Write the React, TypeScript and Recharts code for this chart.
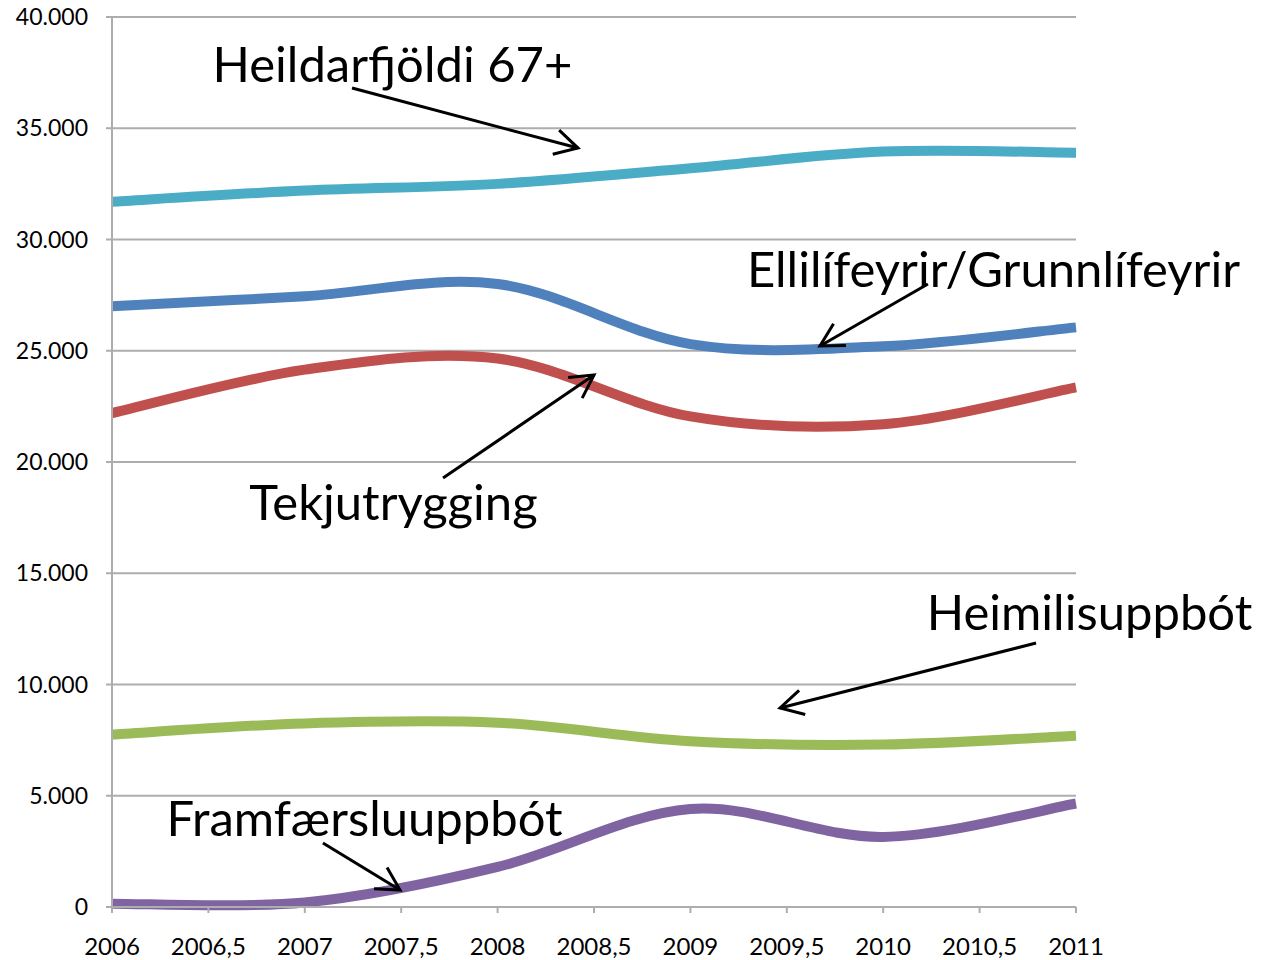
import { LineChart, Line, XAxis, YAxis, CartesianGrid, ReferenceLine, ReferenceDot } from 'recharts';

const years = [2006, 2007, 2008, 2009, 2010, 2011];
const heildarfjoldi = [31700, 32200, 32500, 33200, 33950, 33900];
const ellilifeyrir = [27000, 27450, 28000, 25300, 25200, 26050];
const tekjutrygging = [22200, 24150, 24650, 22050, 21700, 23350];
const heimilisuppbot = [7750, 8250, 8280, 7450, 7300, 7700];
const framfaersluuppbot = [150, 200, 1800, 4400, 3150, 4650];

const xTicks = [2006, 2006.5, 2007, 2007.5, 2008, 2008.5, 2009, 2009.5, 2010, 2010.5, 2011];
const yTicks = [0, 5000, 10000, 15000, 20000, 25000, 30000, 35000, 40000];

const data = years.map((year, i) => ({
  year,
  heildar: heildarfjoldi[i],
  elli: ellilifeyrir[i],
  tekju: tekjutrygging[i],
  heimili: heimilisuppbot[i],
  framf: framfaersluuppbot[i],
}));

// callouts, in data coordinates
const callouts = [
  { text: 'Heildarfjöldi 67+', x: 2007.455, y: 37930, from: [2007.245, 36810], to: [2008.417, 34110] },
  { text: 'Ellilífeyrir/Grunnlífeyrir', x: 2010.572, y: 28720, from: [2010.232, 28000], to: [2009.672, 25213] },
  { text: 'Tekjutrygging', x: 2007.46, y: 18250, from: [2007.717, 19280], to: [2008.5, 23910] },
  { text: 'Heimilisuppbót', x: 2011.07, y: 13300, from: [2010.793, 11865], to: [2009.465, 8944] },
  { text: 'Framfærsluuppbót', x: 2007.31, y: 4045, from: [2007.094, 2876], to: [2007.494, 764] },
];

const FONT = 'Lato, "Open Sans", sans-serif';
const GRID = '#ADADAD';

// Excel-like smoothed line (Catmull-Rom through the points)
const smoothCurve = (context: any) => {
  let pts: number[][] = [];
  return {
    areaStart() {},
    areaEnd() {},
    lineStart() {
      pts = [];
    },
    point(x: number, y: number) {
      pts.push([x, y]);
    },
    lineEnd() {
      if (!pts.length) return;
      context.moveTo(pts[0][0], pts[0][1]);
      for (let i = 0; i < pts.length - 1; i++) {
        const p0 = pts[Math.max(i - 1, 0)];
        const p1 = pts[i];
        const p2 = pts[i + 1];
        const p3 = pts[Math.min(i + 2, pts.length - 1)];
        context.bezierCurveTo(
          p1[0] + (p2[0] - p0[0]) / 6,
          p1[1] + (p2[1] - p0[1]) / 6,
          p2[0] - (p3[0] - p1[0]) / 6,
          p2[1] - (p3[1] - p1[1]) / 6,
          p2[0],
          p2[1]
        );
      }
    },
  };
};

const Arrow = (props: any) => {
  const { x1, y1, x2, y2 } = props;
  const ang = Math.atan2(y2 - y1, x2 - x1);
  const len = 26;
  const spread = 0.5;
  const ax = x2 - len * Math.cos(ang - spread);
  const ay = y2 - len * Math.sin(ang - spread);
  const bx = x2 - len * Math.cos(ang + spread);
  const by = y2 - len * Math.sin(ang + spread);
  return (
    <g>
      <line x1={x1} y1={y1} x2={x2} y2={y2} stroke="#000" strokeWidth={3} />
      <polyline points={`${ax},${ay} ${x2},${y2} ${bx},${by}`} fill="none" stroke="#000" strokeWidth={3} />
    </g>
  );
};

const formatY = (v: number) => (v === 0 ? '0' : `${v / 1000}.000`);
const formatX = (v: number) => String(v).replace('.', ',');

export default function App() {
  const series = [
    { key: 'heildar', color: '#4BACC6' },
    { key: 'elli', color: '#4F81BD' },
    { key: 'tekju', color: '#C0504D' },
    { key: 'heimili', color: '#9BBB59' },
    { key: 'framf', color: '#8064A2' },
  ];

  return (
    <div style={{ position: 'absolute', left: 0, top: 0, background: '#fff' }}>
      <LineChart width={1263} height={960} data={data} margin={{ top: 17, right: 187, bottom: 23, left: 0 }}>
        <CartesianGrid vertical={false} stroke={GRID} strokeWidth={2} />
        <XAxis
          dataKey="year"
          type="number"
          domain={[2006, 2011]}
          ticks={xTicks}
          tickFormatter={formatX}
          interval={0}
          height={30}
          stroke={GRID}
          strokeWidth={2}
          tickSize={6}
          tickMargin={25}
          tick={{ fill: '#000', fontSize: 24, fontFamily: FONT }}
        />
        <YAxis
          type="number"
          domain={[0, 40000]}
          ticks={yTicks}
          tickFormatter={formatY}
          interval={0}
          width={112}
          stroke={GRID}
          strokeWidth={2}
          tickSize={6}
          tickMargin={18}
          tick={{ fill: '#000', fontSize: 23, fontFamily: FONT }}
        />
        {series.map((s) => (
          <Line
            key={s.key}
            dataKey={s.key}
            type={smoothCurve as any}
            stroke={s.color}
            strokeWidth={10}
            dot={false}
            activeDot={false}
            isAnimationActive={false}
          />
        ))}
        {callouts.map((c) => (
          <ReferenceLine
            key={`a-${c.text}`}
            segment={[
              { x: c.from[0], y: c.from[1] },
              { x: c.to[0], y: c.to[1] },
            ]}
            ifOverflow="visible"
            shape={Arrow}
          />
        ))}
        {callouts.map((c) => (
          <ReferenceDot
            key={`t-${c.text}`}
            x={c.x}
            y={c.y}
            r={0}
            ifOverflow="visible"
            shape={(p: any) => (
              <text
                x={p.cx}
                y={p.cy}
                textAnchor="middle"
                dominantBaseline="central"
                fontFamily={FONT}
                fontSize={49}
                fill="#000"
              >
                {c.text}
              </text>
            )}
          />
        ))}
      </LineChart>
    </div>
  );
}
